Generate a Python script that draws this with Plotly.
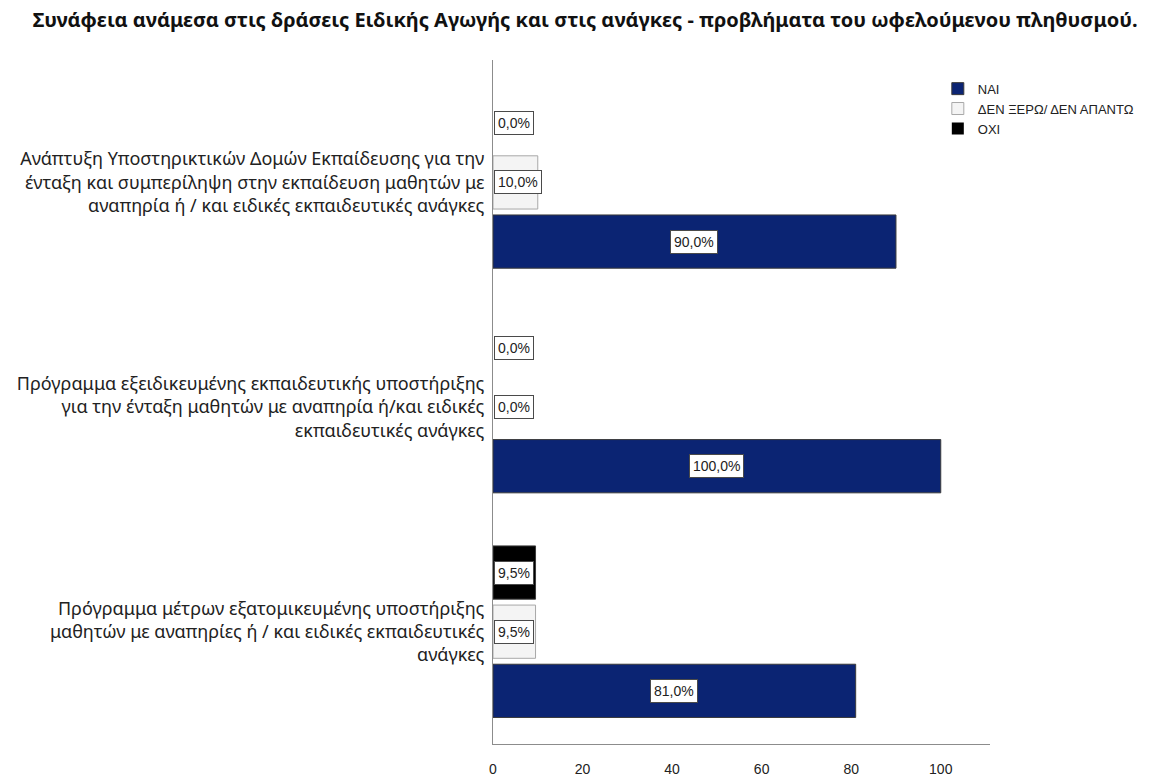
import plotly.graph_objects as go

categories = [
    "Ανάπτυξη Υποστηρικτικών Δομών Εκπαίδευσης για την<br>ένταξη και συμπερίληψη στην εκπαίδευση μαθητών με<br>αναπηρία ή / και ειδικές εκπαιδευτικές ανάγκες",
    "Πρόγραμμα εξειδικευμένης εκπαιδευτικής υποστήριξης<br>για την ένταξη μαθητών με αναπηρία ή/και ειδικές<br>εκπαιδευτικές ανάγκες",
    "Πρόγραμμα μέτρων εξατομικευμένης υποστήριξης<br>μαθητών με αναπηρίες ή / και ειδικές εκπαιδευτικές<br>ανάγκες",
]

series_names = ["ΝΑΙ", "ΔΕΝ ΞΕΡΩ/ ΔΕΝ ΑΠΑΝΤΩ", "ΟΧΙ"]
nai = [90.0, 100.0, 81.0]
den_xero = [10.0, 0.0, 9.5]
oxi = [0.0, 0.0, 9.5]
x_ticks = [0, 20, 40, 60, 80, 100]

series_values = [nai, den_xero, oxi]
fills = ["#0b2473", "#f4f4f4", "#000000"]
edges = ["#3a3a3a", "#a8a8a8", "#3a3a3a"]

bargap = 0.21
bargroupgap = 0.1

fig = go.Figure()
for name, vals, fc, ec in zip(series_names, series_values, fills, edges):
    fig.add_trace(go.Bar(
        name=name, y=categories, x=vals, orientation="h",
        marker=dict(color=fc, line=dict(color=ec, width=[1 if v > 0 else 0 for v in vals])),
        hoverinfo="skip",
    ))

# first category drawn at top
order = categories[::-1]
slot = (1 - bargap) / len(series_names)
annotations = []
for i, vals in enumerate(series_values):
    offset = -(1 - bargap) / 2 + slot * (i + 0.5)
    for cat, v in zip(categories, vals):
        pos = order.index(cat) + offset
        txt = f"{v:.1f}%".replace(".", ",")
        if v / 2 < 5.5:
            ax = dict(x=0, xanchor="left", xshift=1)
        else:
            ax = dict(x=v / 2, xanchor="center")
        annotations.append(dict(
            y=pos, yref="y", xref="x", text=txt, showarrow=False,
            bgcolor="white", bordercolor="#4a4a4a", borderwidth=1, borderpad=3,
            font=dict(family="Liberation Sans", size=14, color="#222222"),
            yanchor="middle", **ax,
        ))

fig.update_layout(
    width=1173, height=782,
    margin=dict(l=485, r=191, t=52, b=46, autoexpand=False),
    paper_bgcolor="white", plot_bgcolor="white",
    barmode="group", bargap=bargap, bargroupgap=bargroupgap,
    title=dict(
        text="<b>Συνάφεια ανάμεσα στις δράσεις Ειδικής Αγωγής και στις ανάγκες - προβλήματα του ωφελούμενου πληθυσμού.</b>",
        x=0.492, xanchor="center", xref="container", y=0.985, yanchor="middle",
        font=dict(family="Noto Sans", size=20, color="#111111"),
    ),
    legend=dict(
        x=0.895, xanchor="left", y=0.98, yanchor="top",
        traceorder="normal", bgcolor="rgba(0,0,0,0)",
        font=dict(family="Liberation Sans", size=13, color="#222222"),
        itemwidth=30, tracegroupgap=0,
    ),
    annotations=annotations,
    showlegend=True,
)
fig.update_xaxes(
    range=[0, 111], tickvals=x_ticks, showgrid=False, zeroline=False,
    showline=True, linecolor="#8c8c8c", linewidth=1, ticks="",
    ticklabelstandoff=12,
    tickfont=dict(family="Liberation Sans", size=14, color="#222222"),
)
fig.update_yaxes(
    categoryorder="array", categoryarray=order,
    range=[-0.5, 2.545], showgrid=False, zeroline=False,
    showline=True, linecolor="#8c8c8c", linewidth=1, ticks="",
    ticklabelstandoff=4,
    tickfont=dict(family="Noto Sans", size=18, color="#222222"),
)

fig.write_html("out.html")
